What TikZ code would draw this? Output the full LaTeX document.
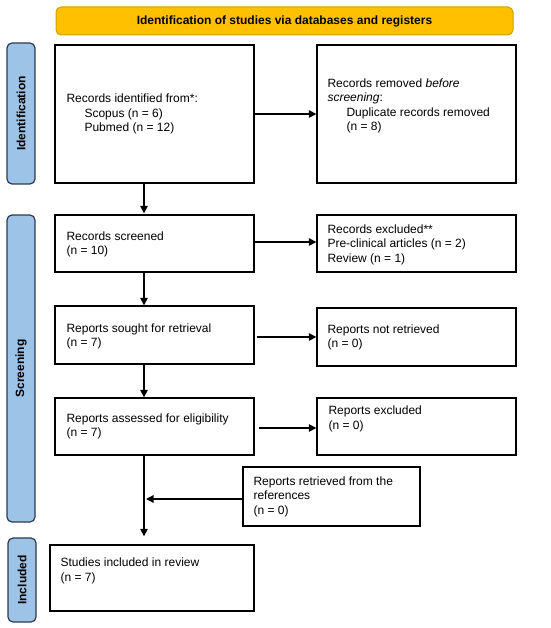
\documentclass[tikz,border=0pt]{standalone}
\usepackage{fontspec}
\setmainfont{Liberation Sans}
\usetikzlibrary{arrows.meta,calc}
\definecolor{hdrfill}{HTML}{FFC000}
\definecolor{hdrdraw}{HTML}{C9A400}
\definecolor{sidefill}{HTML}{9DC3E6}
\definecolor{sidedraw}{HTML}{2E3B4E}
\begin{document}
\begin{tikzpicture}[x=1pt,y=-1pt,
  every node/.style={font=\fontsize{12}{14.5}\selectfont},
  box/.style={draw=black,line width=1.3pt,inner sep=0pt,rectangle},
  txt/.style={anchor=west,align=left,inner sep=0pt},
  hdr/.style={draw=hdrdraw,fill=hdrfill,line width=1pt,rounded corners=5pt,inner sep=0pt,
    minimum width=457pt,minimum height=28pt,font=\fontsize{12}{14.5}\selectfont\bfseries},
  side/.style={draw=sidedraw,fill=sidefill,line width=1.2pt,rounded corners=5pt,inner sep=0pt,
    minimum width=28pt,font=\fontsize{12}{14.5}\selectfont\bfseries},
  arr/.style={line width=1.3pt,-{Triangle[length=7.5pt,width=7.5pt]}}
]
\useasboundingbox (0,0) rectangle (550,628);

% header
\node[hdr] (hdr) at (284.5,21) {Identification of studies via databases and registers};

% side bars
\node[side,minimum height=141pt] (sid) at (21,113.5) {};
\node[rotate=90,font=\fontsize{12}{14.5}\selectfont\bfseries] (sidl) at (sid.center) {Identification};
\node[side,minimum height=307pt] (sscr) at (21,368.5) {};
\node[rotate=90,font=\fontsize{12}{14.5}\selectfont\bfseries] (sscrl) at (sscr.center) {Screening};
\node[side,minimum height=84pt] (sinc) at (22,580) {};
\node[rotate=90,font=\fontsize{12}{14.5}\selectfont\bfseries] (sincl) at (sinc.center) {Included};

% boxes
\node[box,minimum width=199pt,minimum height=138pt] (b1) at (154.5,114) {};
\node[box,minimum width=199pt,minimum height=138pt] (r1) at (416.5,114) {};
\node[box,minimum width=199pt,minimum height=57pt] (b2) at (154.5,243.5) {};
\node[box,minimum width=199pt,minimum height=57pt] (r2) at (416.5,243.5) {};
\node[box,minimum width=199pt,minimum height=58pt] (b3) at (154.5,335) {};
\node[box,minimum width=199pt,minimum height=58pt] (r3) at (416.5,337) {};
\node[box,minimum width=199pt,minimum height=57pt] (b4) at (154.5,426.5) {};
\node[box,minimum width=199pt,minimum height=57pt] (r4) at (416.5,426.5) {};
\node[box,minimum width=177pt,minimum height=59pt] (b5) at (331.5,496.5) {};
\node[box,minimum width=204pt,minimum height=66pt] (b6) at (152,578) {};

% texts
\node[txt] (t1) at ($(b1.west)+(12,0)$) {Records identified from*:\\\hspace*{18pt}Scopus (n = 6)\\\hspace*{18pt}Pubmed (n = 12)};
\node[txt] (tr1) at ($(r1.west)+(11,-8)$) {Records removed \textit{before}\\\textit{screening}:\\\hspace*{19pt}Duplicate records removed\\\hspace*{19pt}(n = 8)};
\node[txt] (t2) at ($(b2.west)+(12,1)$) {Records screened\\(n = 10)};
\node[txt] (tr2) at ($(r2.west)+(11,1)$) {Records excluded**\\Pre-clinical articles (n = 2)\\Review (n = 1)};
\node[txt] (t3) at ($(b3.west)+(12,1.5)$) {Reports sought for retrieval\\(n = 7)};
\node[txt] (tr3) at ($(r3.west)+(11,0.5)$) {Reports not retrieved\\(n = 0)};
\node[txt] (t4) at ($(b4.west)+(12,0)$) {Reports assessed for eligibility\\(n = 7)};
\node[txt] (tr4) at ($(r4.west)+(12,-7.5)$) {Reports excluded\\(n = 0)};
\node[txt] (t5) at ($(b5.west)+(11,0)$) {Reports retrieved from the\\references\\(n = 0)};
\node[txt] (t6) at ($(b6.west)+(11,-7)$) {Studies included in review\\(n = 7)};

% connectors
\coordinate (vx) at (144,0);
\draw[arr] (b1.south -| vx) -- ($(b2.north -| vx)+(0,-1)$);
\draw[arr] (b2.south -| vx) -- (b3.north -| vx);
\draw[arr] (b3.south -| vx) -- (b4.north -| vx);
\draw[arr,shorten >=8pt] (b4.south -| vx) -- (b6.north -| vx);
\draw[arr] (b1.east) -- (r1.west);
\draw[arr] ($(b2.east)+(0,-1.5)$) -- ($(r2.west)+(0,-1.5)$);
\draw[arr] ($(b3.east |- r3.west)+(2,0)$) -- (r3.west);
\draw[arr] ($(b4.east)+(4,1.5)$) -- ($(r4.west)+(0,1.5)$);
\draw[arr] ($(b5.west)+(0,2.5)$) -- ($(b5.west -| vx)+(2,2.5)$);
\end{tikzpicture}
\end{document}
